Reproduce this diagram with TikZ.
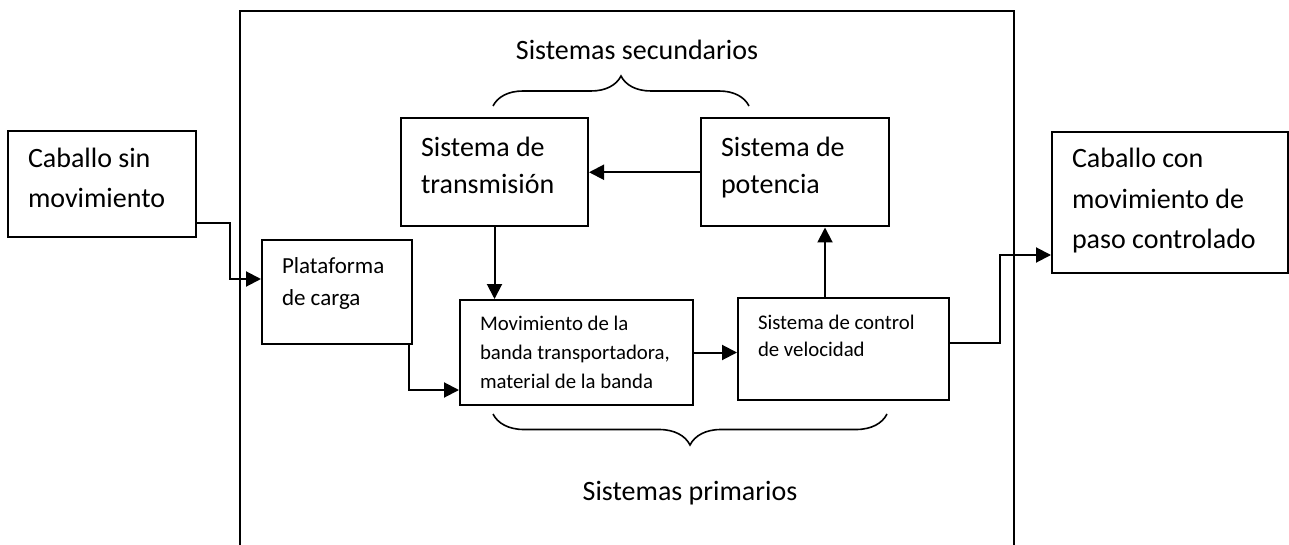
\documentclass[tikz,border=0pt]{standalone}
\usepackage{fontspec}
\setmainfont{Carlito}
\usetikzlibrary{arrows.meta,decorations.pathreplacing}

\begin{document}
\begin{tikzpicture}[x=0.5pt,y=-0.5pt,
    box/.style={draw, line width=1pt, inner xsep=10pt, inner ysep=0pt, align=left, anchor=north west,
      execute at begin node={\spaceskip=0pt\xspaceskip=0pt}},
    big/.style={font=\fontsize{14pt}{20pt}\selectfont},
    arr/.style={line width=1pt, -{Triangle[length=7.5pt,width=7.5pt]}},
    brc/.style={decorate, line width=0.8pt}]
    \useasboundingbox (0,0) rectangle (1289,545);
    % marco
    \draw[line width=1pt] (240,545) |- (1014,11) -- (1014,545);

    \node[box, big, text width=74pt, text height=18.5pt, text depth=34.5pt] (sin) at (7,130) {Caballo sin\\movimiento};
    \node[box, font=\fontsize{14pt}{20.25pt}\selectfont, text width=98pt, text height=18pt, text depth=52.5pt] (con) at (1051,131) {Caballo con\\movimiento de\\paso controlado};

    \node[box, font=\fontsize{11.5pt}{16pt}\selectfont, text width=55pt, text height=16.5pt, text depth=35.5pt] (plat) at (261,239) {Plataforma\\de carga};
    \node[box, font=\fontsize{14pt}{18.5pt}\selectfont, text width=73.5pt, text height=19.5pt, text depth=34.75pt] (trans) at (400,117) {Sistema de\\transmisión};
    \node[box, font=\fontsize{14pt}{18.5pt}\selectfont, text width=74pt, text height=19.5pt, text depth=34.75pt] (pot) at (700,117) {Sistema de\\potencia};
    \node[box, font=\fontsize{10.4pt}{14.5pt}\selectfont, text width=96.5pt, text height=15pt, text depth=37.5pt] (mov) at (459,299) {Movimiento de la\\\mbox{banda transportadora,}\\material de la banda};
    \node[box, font=\fontsize{10.4pt}{13.5pt}\selectfont, text width=85.5pt, text height=15.5pt, text depth=35.5pt] (ctrl) at (737,297) {Sistema de control\\de velocidad};

    % conexiones
    \draw[arr] ([yshift=7.5pt]sin.south east) -- ++(33,0) |- ([yshift=-20pt]plat.north west);
    \draw[arr] ([xshift=-2pt]plat.south east) |- ([yshift=8pt]mov.south west);
    \draw[arr] (pot.west) -- (trans.east);
    \draw[arr] (trans.south) -- (trans.south |- mov.north);
    \draw[arr] (mov.east) -- (mov.east -| ctrl.west);
    \coordinate (up) at ([xshift=15pt]pot.south);
    \draw[arr] (up |- ctrl.north) -- (up);
    \draw[arr] ([yshift=3pt]ctrl.east) -- ++(50,0) |- ([yshift=9.5pt]con.south west);

    % llaves
    \draw[brc, decoration={brace, amplitude=15pt}] (493,106) -- (749,106);
    \node[big, anchor=base] (sec) at (637,60) {Sistemas secundarios};
    \draw[brc, decoration={brace, mirror, amplitude=15.5pt}] (493,414) -- (887,414);
    \node[big, anchor=base] (prim) at (690,500) {Sistemas primarios};
\end{tikzpicture}
\end{document}
